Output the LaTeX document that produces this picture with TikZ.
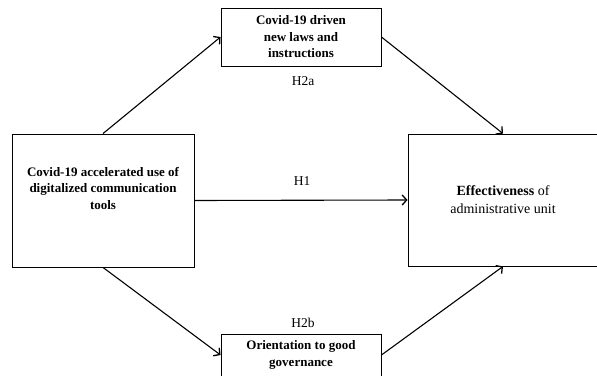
\documentclass[tikz,border=0pt]{standalone}
\usepackage{fontspec}
\setmainfont{Liberation Serif}
\usetikzlibrary{arrows.meta,positioning,calc}

\begin{document}
\begin{tikzpicture}[x=1pt,y=1pt,thick,node distance=6pt,
  box/.style={draw,line width=0.9pt,align=center,inner sep=2pt,font=\fontsize{13}{16.5}\selectfont\bfseries},
  hyp/.style={font=\fontsize{13.5}{15}\selectfont},
  link/.style={-{Straight Barb[length=4.5pt,width=10pt,line width=1.3pt]},line width=1.1pt}]
  \useasboundingbox (0,0) rectangle (597,-375);
  \clip (0,0) rectangle (597,-375);

  \node[box,minimum width=182,minimum height=133] (tools) at (103,-200.5)
    {Covid-19 accelerated use of\\digitalized communication\\tools\\[8pt]};
  \node[box,minimum width=160,minimum height=58] (laws) at (301,-37)
    {Covid-19 driven\\new laws and\\instructions};
  \node[box,minimum width=190,minimum height=132,font=\fontsize{14}{18}\selectfont] (eff) at (503,-200)
    {\textbf{Effectiveness} of\\administrative unit};
  \node[box,minimum width=160,minimum height=42] (gov) at (301,-355)
    {Orientation to good\\governance};

  \node[hyp,below=6pt of laws,xshift=2pt] (h2a) {H2a};
  \node[hyp] (h1) at (302,-181) {H1};
  \node[hyp,above=2pt of gov,xshift=2pt] (h2b) {H2b};

  \draw[link] (tools.north) -- (laws.west);
  \draw[link] (laws.east) -- (eff.north);
  \draw[link] (tools.east) -- (eff.west);
  \draw[link] (tools.south) -- (gov.west);
  \draw[link] (gov.east) -- (eff.south);
\end{tikzpicture}
\end{document}
